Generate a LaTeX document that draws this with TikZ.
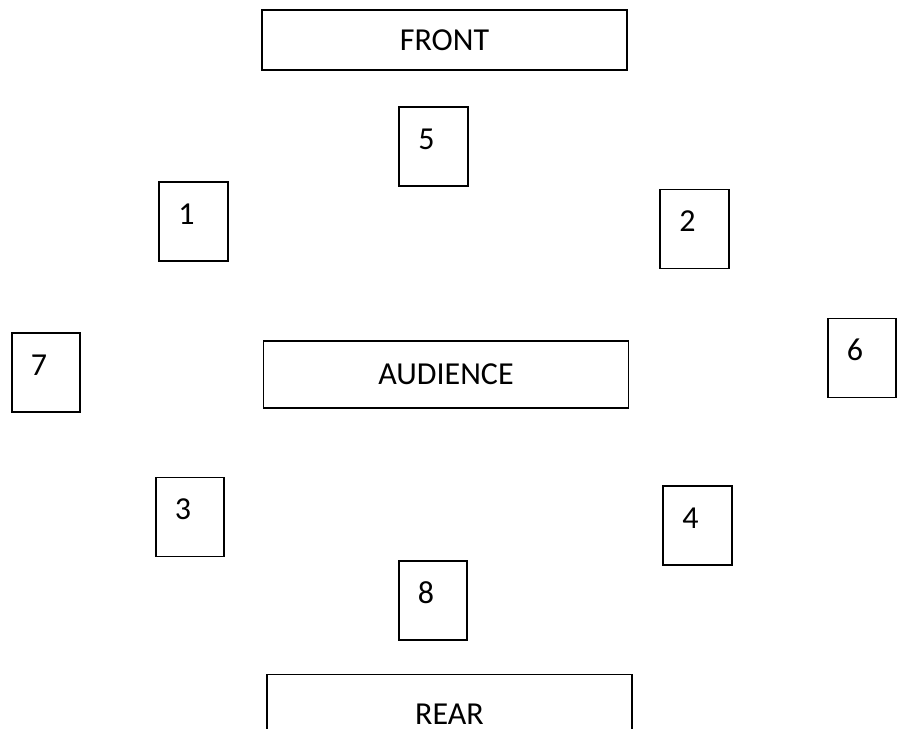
\documentclass[tikz,border=0pt]{standalone}
\usepackage{fontspec}
\setmainfont{Carlito}
\begin{document}
\begin{tikzpicture}[x=0.75pt,y=-0.75pt,
    every node/.style={font=\fontsize{24pt}{29pt}\selectfont},
    zone/.style={draw, line width=1.3pt, outer sep=0pt, minimum width=273.75pt},
    seat/.style={draw, line width=1.3pt, outer sep=0pt, minimum width=51.5pt, minimum height=59.25pt},
    num/.style={anchor=base west, inner sep=0pt, xshift=14.25pt, yshift=-31.5pt}]
    \clip (0,0) rectangle (905,728);
    % front, audience and rear
    \node[zone, minimum height=45pt] (front) at (444.5,40) {FRONT};
    \node[zone, minimum height=50.25pt] (audience) at (446,374.5) {AUDIENCE};
    \node[zone, minimum height=60pt] (rear) at (449.5,714.5) {REAR};

    % the eight seats
    \node[seat, label={[num]north west:5}] (s5) at (433.5,146.5) {};
    \node[seat, label={[num]north west:1}] (s1) at (193.5,221.5) {};
    \node[seat, label={[num]north west:2}] (s2) at (694.5,229) {};
    \node[seat, label={[num]north west:7}] (s7) at (46,372.5) {};
    \node[seat, label={[num]north west:6}] (s6) at (862,358) {};
    \node[seat, label={[num]north west:3}] (s3) at (190,517) {};
    \node[seat, label={[num]north west:4}] (s4) at (697.5,525.5) {};
    \node[seat, label={[num]north west:8}] (s8) at (433,600.5) {};
\end{tikzpicture}
\end{document}
